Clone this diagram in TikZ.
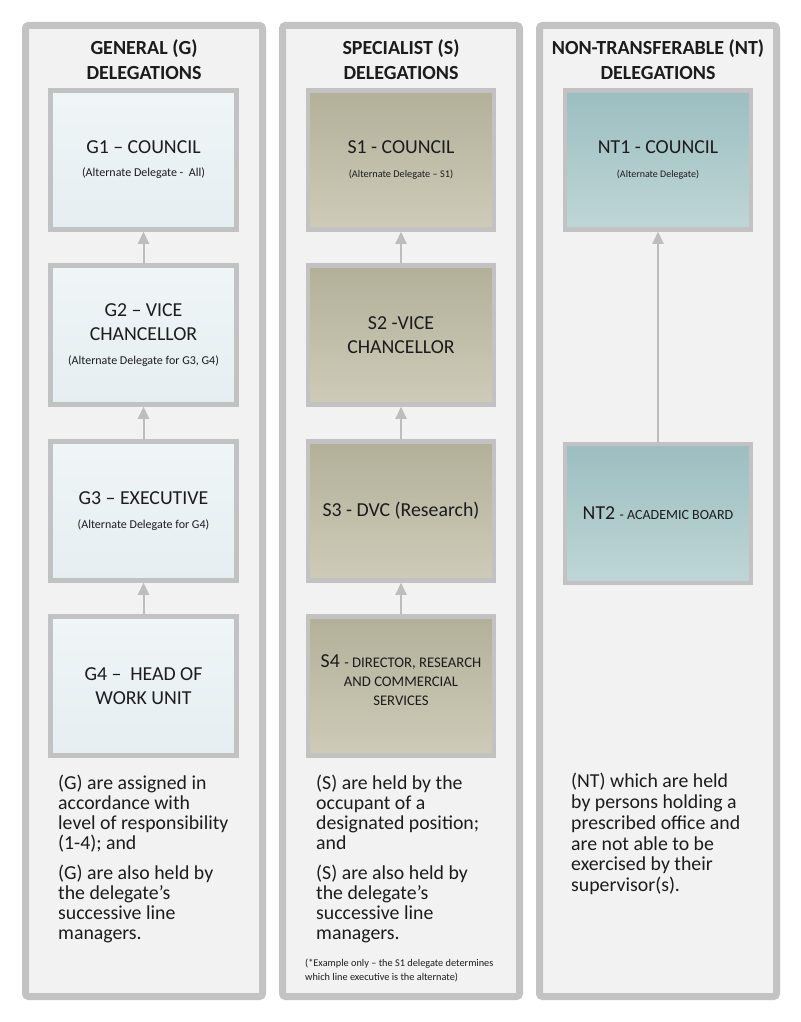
\documentclass[tikz,border=0pt]{standalone}
\usepackage{fontspec}
\setmainfont{Carlito}
\usetikzlibrary{arrows.meta}
\definecolor{colborder}{HTML}{C3C3C3}
\definecolor{colfill}{HTML}{F2F2F2}
\definecolor{boxborder}{HTML}{C2C2C2}
\definecolor{gtop}{HTML}{F0F5F7}
\definecolor{gbot}{HTML}{E5EEF1}
\definecolor{stop}{HTML}{B2B099}
\definecolor{sbot}{HTML}{CECCB8}
\definecolor{nttop}{HTML}{9CBEC0}
\definecolor{ntbot}{HTML}{BFD6D7}
\definecolor{txt}{HTML}{1C1C1C}
\definecolor{arrowgrey}{HTML}{BDBDBD}
\begin{document}
\begin{tikzpicture}[x=1pt,y=-1pt,
  column/.style={draw=colborder,fill=colfill,line width=7pt,rounded corners=3pt,
    minimum width=237pt,minimum height=971pt,inner sep=0pt},
  header/.style={font=\fontsize{20}{25}\selectfont\bfseries,align=center,text=txt},
  delbox/.style={draw=boxborder,line width=4.5pt,minimum width=186pt,minimum height=139pt,
    inner sep=0pt,align=center,text=txt,font=\fontsize{19.8}{24}\selectfont},
  gbox/.style={delbox,top color=gtop,bottom color=gbot},
  sbox/.style={delbox,top color=stop,bottom color=sbot},
  ntbox/.style={delbox,top color=nttop,bottom color=ntbot},
  arr/.style={draw=arrowgrey,line width=2pt,-{Triangle[width=11pt,length=12pt]}},
  body/.style={anchor=north west,align=left,inner sep=0pt,text=txt,
    font=\fontsize{19.8}{20}\selectfont},
  foot/.style={anchor=north west,align=left,inner sep=0pt,text=txt,
    font=\fontsize{10.3}{14}\selectfont}]
\useasboundingbox (0,0) rectangle (800,1022);
\fill[white] (0,0) rectangle (800,1022);
% columns
\node[column] (colG) at (144,511) {};
\node[column] (colS) at (401,511) {};
\node[column] (colNT) at (658,511) {};
% headers
\node[header] (hG) at (144,60) {GENERAL (G)\\DELEGATIONS};
\node[header] (hS) at (401,60) {SPECIALIST (S)\\DELEGATIONS};
\node[header] (hNT) at (658,60) {NON-TRANSFERABLE (NT)\\DELEGATIONS};
% General boxes
\node[gbox] (G1) at (143.5,160) {G1 -- COUNCIL\\[-1pt]{\fontsize{12}{14}\selectfont(Alternate Delegate -\ \ All)}};
\node[gbox] (G2) at (143.5,335) {G2 -- VICE\\CHANCELLOR\\[0pt]{\fontsize{12}{14}\selectfont(Alternate Delegate for G3, G4)}};
\node[gbox] (G3) at (143.5,511) {G3 -- EXECUTIVE\\[0pt]{\fontsize{12}{14}\selectfont(Alternate Delegate for G4)}};
\node[gbox] (G4) at (143.5,686) {G4 --\ \ HEAD OF\\WORK UNIT};
% Specialist boxes
\node[sbox] (S1) at (401,160) {S1 - COUNCIL\\[0pt]{\fontsize{10.3}{12}\selectfont(Alternate Delegate -- S1)}};
\node[sbox] (S2) at (401,335) {S2 -VICE\\CHANCELLOR};
\node[sbox] (S3) at (401,511) {S3 - DVC (Research)};
\node[sbox,font=\fontsize{19.8}{19}\selectfont,text depth=0pt] (S4) at (401,686) {\raisebox{0pt}[0pt][0pt]{}};
\node[text=txt,align=center,inner sep=0pt,font=\fontsize{19.8}{19}\selectfont] (S4t) at (401,680) {S4 {\fontsize{14.7}{19}\selectfont- DIRECTOR, RESEARCH}\\{\fontsize{14.7}{19}\selectfont AND COMMERCIAL}\\{\fontsize{14.7}{19}\selectfont SERVICES}};
% NT boxes
\node[ntbox] (NT1) at (658,160) {NT1 - COUNCIL\\[0pt]{\fontsize{10}{12}\selectfont(Alternate Delegate)}};
\node[ntbox] (NT2) at (658,513.5) {NT2 {\fontsize{14}{19}\selectfont- ACADEMIC BOARD}};
% arrows
\draw[arr] (G2) -- (G1);
\draw[arr] (G3) -- (G2);
\draw[arr] (G4) -- (G3);
\draw[arr] (S2) -- (S1);
\draw[arr] (S3) -- (S2);
\draw[arr] (S4) -- (S3);
\draw[arr] (NT2) -- (NT1);
% bottom texts
\node[body] (tG) at (58,775) {(G) are assigned in\\accordance with\\level of responsibility\\(1-4); and\\[10pt](G) are also held by\\the delegate's\\successive line\\managers.};
\node[body] (tS) at (316,775) {(S) are held by the\\occupant of a\\designated position;\\and\\[10pt](S) are also held by\\the delegate's\\successive line\\managers.};
\node[foot] (fS) at (305,959) {(*Example only -- the S1 delegate determines\\which line executive is the alternate)};
\node[body,font=\fontsize{19.8}{20.8}\selectfont] (tNT) at (571,773) {(NT) which are held\\by persons holding a\\prescribed office and\\are not able to be\\exercised by their\\supervisor(s).};
\end{tikzpicture}
\end{document}
